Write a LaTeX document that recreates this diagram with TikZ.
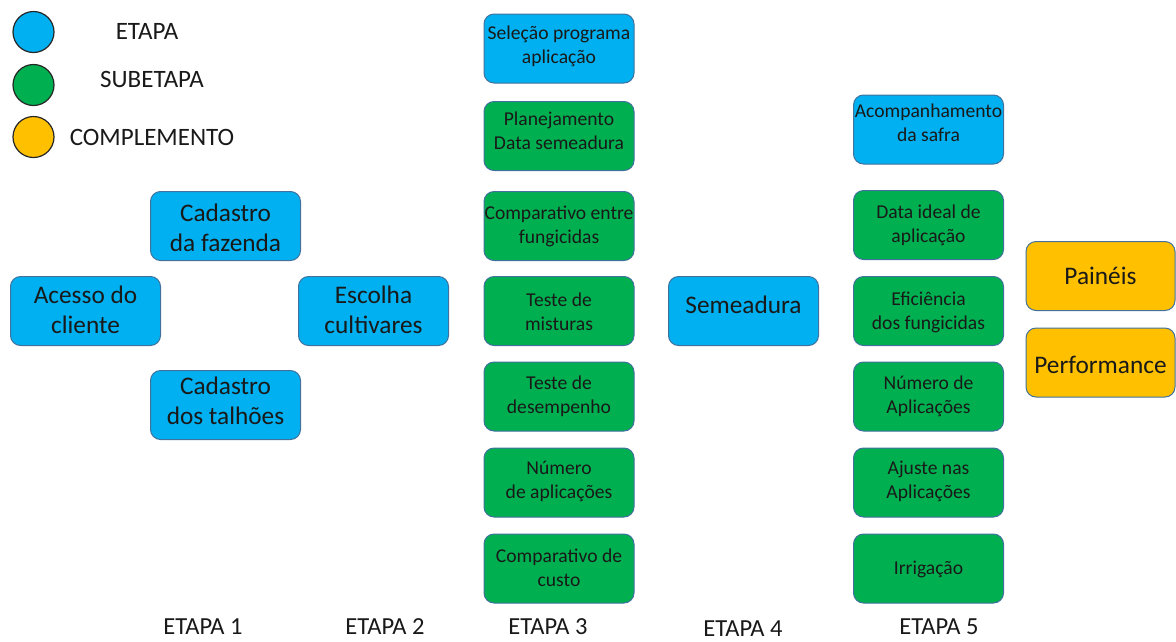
\documentclass[tikz,border=0pt]{standalone}
\usepackage{fontspec}
\setmainfont{Carlito}
\definecolor{cblue}{HTML}{00B0F0}
\definecolor{cgreen}{HTML}{00B050}
\definecolor{corange}{HTML}{FFC000}
\definecolor{bordc}{HTML}{41719C}
\tikzset{
  box/.style={draw=bordc, line width=1pt, rounded corners=10pt, minimum width=150pt, minimum height=69pt, inner sep=0pt},
  small/.style={font=\fontsize{19.6}{24}\selectfont, align=center, inner sep=0pt, text=black!90},
  big/.style={font=\fontsize{25.3}{30}\selectfont, align=center, inner sep=0pt, text=black!90},
  legc/.style={circle, draw=black!85, line width=1.2pt, minimum size=41pt, inner sep=0pt},
  legt/.style={font=\fontsize{25}{30}\selectfont, inner sep=0pt, text=black!90},
  etl/.style={font=\fontsize{24.5}{28}\selectfont, inner sep=0pt, text=black!90}
}
\begin{document}
\begin{tikzpicture}[x=1pt,y=-1pt]
\useasboundingbox (0,0) rectangle (1176,641);
% legend
\node[legc, fill=cblue] (l1) at (33.5,32) {};
\node[legc, fill=cgreen] (l2) at (33.5,85) {};
\node[legc, fill=corange] (l3) at (33.5,137) {};
\node[legt] (l1t) at (147,31) {ETAPA};
\node[legt] (l2t) at (152,79) {SUBETAPA};
\node[legt] (l3t) at (152,137) {COMPLEMENTO};
% etapa 1 / 2
\node[box, fill=cblue] (cadf) at (225.5,226) {};
\node[big] at ([yshift=-2pt]cadf.center) {Cadastro\\da fazenda};
\node[box, fill=cblue] (acesso) at (85.5,311) {};
\node[big] at ([yshift=1.5pt]acesso.center) {Acesso do\\cliente};
\node[box, fill=cblue] (escolha) at (373.5,311) {};
\node[big] at ([yshift=1.5pt]escolha.center) {Escolha\\cultivares};
\node[box, fill=cblue] (talhoes) at (225.5,405) {};
\node[big] at ([yshift=4pt]talhoes.center) {Cadastro\\dos talhões};
% etapa 3
\node[box, fill=cblue] (sel) at (559,48.5) {};
\node[small] at ([yshift=2.5pt]sel.center) {Seleção programa\\aplicação};
\node[box, fill=cgreen] (plan) at (559,136) {};
\node[small] at ([yshift=5pt]plan.center) {Planejamento\\Data semeadura};
\node[box, fill=cgreen] (compf) at (559,226) {};
\node[small] at ([yshift=0pt]compf.center) {Comparativo entre\\fungicidas};
\node[box, fill=cgreen] (mist) at (559,311) {};
\node[small] at ([yshift=-1pt]mist.center) {Teste de\\misturas};
\node[box, fill=cgreen] (desemp) at (559,396.5) {};
\node[small] at ([yshift=0.5pt]desemp.center) {Teste de\\desempenho};
\node[box, fill=cgreen] (numap) at (559,482.5) {};
\node[small] at ([yshift=1.5pt]numap.center) {Número\\de aplicações};
\node[box, fill=cgreen] (custo) at (559,568.5) {};
\node[small] at ([yshift=0.5pt]custo.center) {Comparativo de\\custo};
% etapa 4
\node[box, fill=cblue] (sem) at (743.5,311) {};
\node[big] at ([yshift=6pt]sem.center) {Semeadura};
% etapa 5
\node[box, fill=cblue] (acomp) at (928.5,129.5) {};
\node[small] at ([yshift=6.5pt]acomp.center) {Acompanhamento\\da safra};
\node[box, fill=cgreen] (dataid) at (928.5,225) {};
\node[small] at ([yshift=0pt]dataid.center) {Data ideal de\\aplicação};
\node[box, fill=cgreen] (efic) at (928.5,311) {};
\node[small] at ([yshift=-1pt]efic.center) {Eficiência\\dos fungicidas};
\node[box, fill=cgreen] (numA) at (928.5,396.5) {};
\node[small] at ([yshift=0.5pt]numA.center) {Número de\\Aplicações};
\node[box, fill=cgreen] (ajuste) at (928.5,482.5) {};
\node[small] at ([yshift=1.5pt]ajuste.center) {Ajuste nas\\Aplicações};
\node[box, fill=cgreen] (irrig) at (928.5,568.5) {};
\node[small] at ([yshift=-1pt]irrig.center) {Irrigação};
% complementos
\node[box, fill=corange, minimum width=149pt] (pain) at (1100.5,276) {};
\node[big] at (pain.center) {Painéis};
\node[box, fill=corange, minimum width=149pt] (perf) at (1100.5,362.5) {};
\node[big] at ([yshift=-2pt]perf.center) {Performance};
% bottom labels
\node[etl] (e1) at (203,627) {ETAPA 1};
\node[etl] (e2) at (385,627) {ETAPA 2};
\node[etl] (e3) at (548,627) {ETAPA 3};
\node[etl] (e4) at (743,629) {ETAPA 4};
\node[etl] (e5) at (939,627) {ETAPA 5};
\end{tikzpicture}
\end{document}
